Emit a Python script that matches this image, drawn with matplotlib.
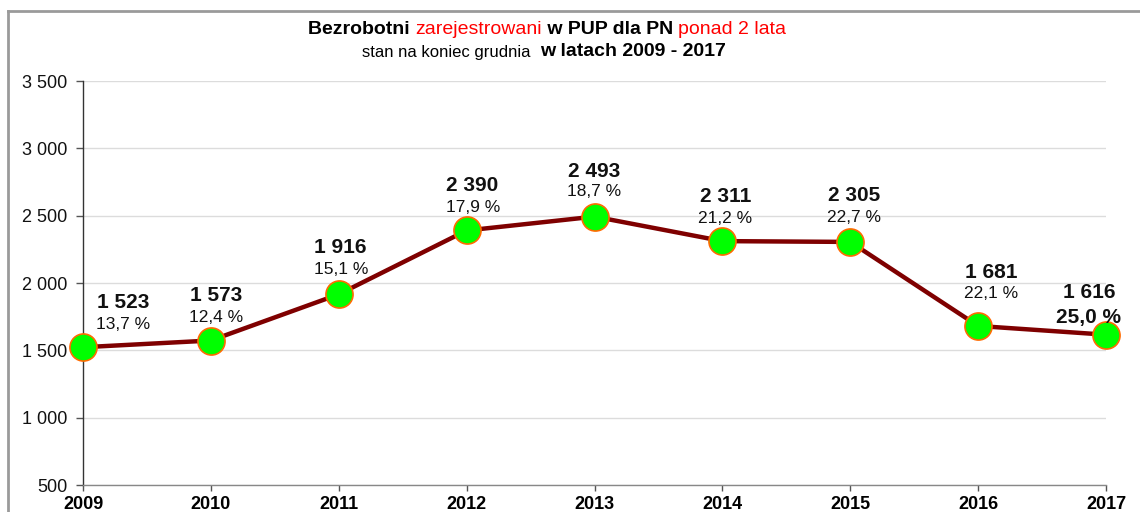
import matplotlib.pyplot as plt
from matplotlib.lines import Line2D
from matplotlib.ticker import FuncFormatter

plt.rcParams['font.family'] = ['Liberation Sans', 'DejaVu Sans']

# data
lata = [2009, 2010, 2011, 2012, 2013, 2014, 2015, 2016, 2017]
bezrobotni = [1523, 1573, 1916, 2390, 2493, 2311, 2305, 1681, 1616]
udzial = [13.7, 12.4, 15.1, 17.9, 18.7, 21.2, 22.7, 22.1, 25.0]

# label offsets in pixels (dx, dy of value label, dy of percent label)
offsets = [(40, 45, 23), (5, 45, 23), (2, 47, 25), (6, 45, 23), (0, 45, 25),
           (3, 45, 23), (4, 46, 24), (13, 53, 32), (-17, 42, 17)]

fig = plt.figure(figsize=(11.4, 5.12), dpi=100)
ax = fig.add_axes([83 / 1140, 1 - 485 / 512, 1023 / 1140, 404 / 512])

x = list(range(len(lata)))
ax.plot(x, bezrobotni, color='#7f0000', lw=3.2, zorder=3, clip_on=False)
ax.plot(x, bezrobotni, 'o', ms=19.5, mfc='#00ff00', mec='#ff6a00', mew=1.2,
        zorder=4, clip_on=False)

px = 72 / 100
for i, (v, p) in enumerate(zip(bezrobotni, udzial)):
    dx, dv, dp = offsets[i]
    ax.annotate(f'{v:,}'.replace(',', ' '), (i, v), xytext=(dx * px, dv * px),
                textcoords='offset points', ha='center', va='center',
                fontsize=15, fontweight='bold', color='#111111', zorder=5)
    last = i == len(lata) - 1
    ax.annotate(f'{p:.1f} %'.replace('.', ','), (i, v), xytext=(dx * px, dp * px),
                textcoords='offset points', ha='center', va='center',
                fontsize=15 if last else 12.5, fontweight='bold' if last else 'normal',
                color='#111111', zorder=5)

ax.set_xlim(0, len(lata) - 1)
ax.set_ylim(500, 3500)
ax.set_yticks(range(500, 3501, 500))
ax.yaxis.set_major_formatter(FuncFormatter(lambda v, _: f'{int(v):,}'.replace(',', ' ')))
ax.set_xticks(x)
ax.set_xticklabels([str(r) for r in lata], fontweight='bold', fontsize=13)
ax.tick_params(axis='y', labelsize=13, length=5, width=1, color='#555555', pad=6)
ax.tick_params(axis='x', length=4, width=1, color='#555555', pad=4)
ax.grid(axis='y', color='#dcdcdc', lw=1)
ax.set_axisbelow(True)
for s in ['top', 'right']:
    ax.spines[s].set_visible(False)
ax.spines['left'].set_color('#333333')
ax.spines['bottom'].set_color('#888888')
for s in ['left', 'bottom']:
    ax.spines[s].set_linewidth(1)
for lbl in ax.get_yticklabels():
    lbl.set_color('#111111')

# outer frame (top and left edges visible)
fig.add_artist(Line2D([8 / 1140, 1], [1 - 11 / 512, 1 - 11 / 512], color='#9a9a9a', lw=2))
fig.add_artist(Line2D([8 / 1140, 8 / 1140], [0, 1 - 11 / 512], color='#9a9a9a', lw=2))


def multicolor_line(parts, yc, xc=547):
    fig.canvas.draw()
    r = fig.canvas.get_renderer()
    texts = []
    xpos = 0
    for s, c, size, w in parts:
        t = fig.text(0, 1 - yc / 512, s, color=c, fontsize=size, fontweight=w,
                     va='center', ha='left')
        bb = t.get_window_extent(renderer=r)
        texts.append((t, xpos))
        xpos += bb.width
    start = xc - xpos / 2
    for t, off in texts:
        t.set_x((start + off) / 1140)


multicolor_line([('Bezrobotni ', '#000000', 14, 'bold'),
                 ('zarejestrowani', '#ff0000', 14, 'normal'),
                 (' w PUP dla PN ', '#000000', 14, 'bold'),
                 ('ponad 2 lata', '#ff0000', 14, 'normal')], 29)
multicolor_line([('stan na koniec grudnia  ', '#000000', 12, 'normal'),
                 ('w latach 2009 - 2017', '#000000', 14, 'bold')], 52, 544)

fig.savefig('out.png', dpi=100)
